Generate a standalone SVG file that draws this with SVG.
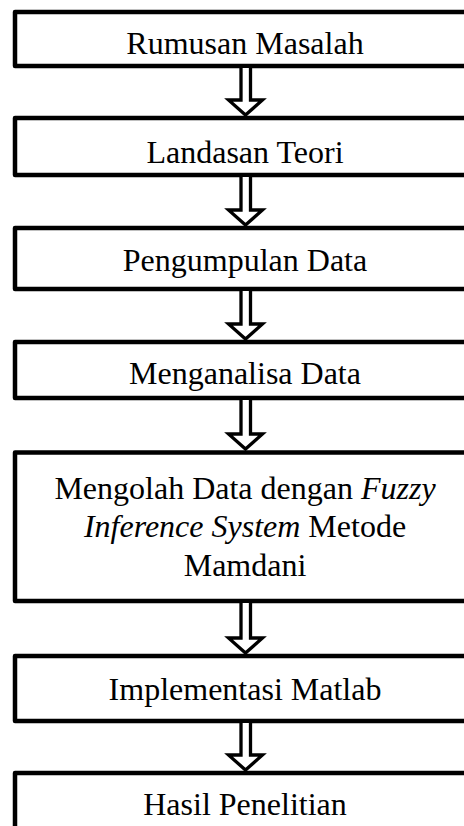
<svg xmlns="http://www.w3.org/2000/svg" width="464" height="826" viewBox="0 0 464 826">
<style>
.box{fill:#fff;stroke:#000;stroke-width:4.5;stroke-linejoin:round}
.t{font-family:"Liberation Serif","Times New Roman",serif;font-size:32px;fill:#000;text-anchor:middle}
.i{font-style:italic}
.arr{fill:#fff;stroke:#000;stroke-width:3.3;stroke-linejoin:miter}
</style>
<rect width="464" height="826" fill="#fff"/>
<g id="n1"><rect class="box" x="15" y="12" width="470" height="54"/><text class="t" x="245" y="54">Rumusan Masalah</text></g>
<g id="n2"><rect class="box" x="15" y="118" width="470" height="57"/><text class="t" x="245" y="163">Landasan Teori</text></g>
<g id="n3"><rect class="box" x="15" y="228" width="470" height="61"/><text class="t" x="245" y="271">Pengumpulan Data</text></g>
<g id="n4"><rect class="box" x="15" y="342" width="470" height="56"/><text class="t" x="245" y="384">Menganalisa Data</text></g>
<g id="n5"><rect class="box" x="15" y="452.5" width="470" height="148.5"/>
<text class="t" x="245" y="499">Mengolah Data dengan <tspan class="i">Fuzzy</tspan></text>
<text class="t" x="245" y="537"><tspan class="i">Inference System</tspan> Metode</text>
<text class="t" x="245" y="576">Mamdani</text></g>
<g id="n6"><rect class="box" x="15" y="656" width="470" height="65"/><text class="t" x="245" y="700">Implementasi Matlab</text></g>
<g id="n7"><rect class="box" x="15" y="773" width="470" height="80"/><text class="t" x="245" y="815">Hasil Penelitian</text></g>
<g id="connectors">
<path class="arr" d="M241,68 V100 H228.5 L245.5,115 L262.5,100 H250.5 V68"/>
<path class="arr" d="M241,177 V210 H228.5 L245.5,225 L262.5,210 H250.5 V177"/>
<path class="arr" d="M241,291 V324 H228.5 L245.5,339 L262.5,324 H250.5 V291"/>
<path class="arr" d="M241,400 V434 H228.5 L245.5,449 L262.5,434 H250.5 V400"/>
<path class="arr" d="M241,603 V638 H228.5 L245.5,653 L262.5,638 H250.5 V603"/>
<path class="arr" d="M241,723 V755 H228.5 L245.5,770 L262.5,755 H250.5 V723"/>
</g>
</svg>
